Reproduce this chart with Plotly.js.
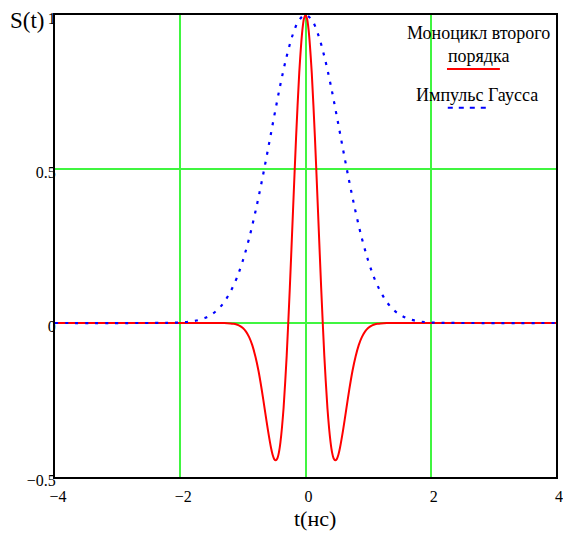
<!DOCTYPE html>
<html>
<head>
<meta charset="utf-8">
<script src="https://cdn.plot.ly/plotly-3.0.1.min.js"></script>
<style>
  html, body { margin: 0; padding: 0; background: #fff; }
  #plot { width: 563px; height: 533px; }
</style>
</head>
<body>
<div id="plot"></div>
<script>
// Second-order monocycle, sampled in time (ns)
const monoT = [-4, -2, -1.3, -1.2, -1.15, -1.1, -1.05, -1.0, -0.95, -0.9, -0.85, -0.8, -0.75, -0.7, -0.65, -0.6, -0.55, -0.525, -0.5, -0.475, -0.45, -0.425, -0.4, -0.35, -0.3, -0.25, -0.2, -0.15, -0.1, -0.05, -0.025, 0,
               0.025, 0.05, 0.1, 0.15, 0.2, 0.25, 0.3, 0.35, 0.4, 0.425, 0.45, 0.475, 0.5, 0.525, 0.55, 0.6, 0.65, 0.7, 0.75, 0.8, 0.85, 0.9, 0.95, 1.0, 1.05, 1.1, 1.15, 1.2, 1.3, 2, 4];
const monoS = [0, 0, 0, -0.0013, -0.0026, -0.005, -0.0093, -0.0165, -0.028, -0.046, -0.072, -0.109, -0.156, -0.215, -0.281, -0.348, -0.406, -0.428, -0.442, -0.446, -0.44, -0.421, -0.387, -0.276, -0.105, 0.115, 0.362, 0.605, 0.812, 0.951, 0.988, 1,
               0.988, 0.951, 0.812, 0.605, 0.362, 0.115, -0.105, -0.276, -0.387, -0.421, -0.44, -0.446, -0.442, -0.428, -0.406, -0.348, -0.281, -0.215, -0.156, -0.109, -0.072, -0.046, -0.028, -0.0165, -0.0093, -0.005, -0.0026, -0.0013, 0, 0, 0];

// Gaussian pulse
const gaussT = [-4, -2.2, -2.0, -1.9, -1.8, -1.7, -1.6, -1.5, -1.4, -1.3, -1.2, -1.1, -1.0, -0.9, -0.8, -0.7, -0.6, -0.5, -0.4, -0.3, -0.2, -0.1, 0,
                0.1, 0.2, 0.3, 0.4, 0.5, 0.6, 0.7, 0.8, 0.9, 1.0, 1.1, 1.2, 1.3, 1.4, 1.5, 1.6, 1.7, 1.8, 1.9, 2.0, 2.2, 4];
const gaussS = [0, 0.0005, 0.0017, 0.0032, 0.0057, 0.01, 0.0169, 0.0277, 0.0439, 0.0676, 0.101, 0.145, 0.203, 0.275, 0.361, 0.458, 0.563, 0.671, 0.775, 0.866, 0.938, 0.984, 1,
                0.984, 0.938, 0.866, 0.775, 0.671, 0.563, 0.458, 0.361, 0.275, 0.203, 0.145, 0.101, 0.0676, 0.0439, 0.0277, 0.0169, 0.01, 0.0057, 0.0032, 0.0017, 0.0005, 0];

const xTicks = [-4, -2, 0, 2, 4];
const xTickText = ['\u22124', '\u22122', '0', '2', '4'];
const yTicks = [-0.5, 0, 0.5, 1];
const yTickText = ['\u22120.5', '0', '0.5', '1'];

const seriesNames = ['Моноцикл второго<br>порядка', 'Импульс Гаусса'];
const xTitle = 't(нс)';
const yTitle = 'S(t)';

const serif = 'Liberation Serif, serif';
const gridGreen = '#40f540';

const traces = [
  {
    x: monoT, y: monoS, type: 'scatter', mode: 'lines',
    line: { shape: 'spline', smoothing: 0.6, color: '#ff0000', width: 2 },
    showlegend: false, hoverinfo: 'skip'
  },
  {
    x: gaussT, y: gaussS, type: 'scatter', mode: 'lines',
    line: { shape: 'spline', color: '#0000ff', width: 2.2, dash: '3px,7px' },
    showlegend: false, hoverinfo: 'skip'
  }
];

const axisCommon = {
  showline: true, mirror: true, linecolor: '#000', linewidth: 2,
  showgrid: true, gridcolor: gridGreen, gridwidth: 2,
  zeroline: false, ticks: '', ticklen: 0,
  tickfont: { family: serif, size: 16, color: '#000' },
  fixedrange: true
};

const layout = {
  width: 563, height: 533,
  margin: { l: 55, r: 7, t: 15, b: 56 },
  paper_bgcolor: '#fff', plot_bgcolor: '#fff',
  showlegend: false,
  font: { family: serif, color: '#000' },
  xaxis: Object.assign({}, axisCommon, {
    range: [-4, 4], tickmode: 'array', tickvals: xTicks, ticktext: xTickText,
    ticklabelshift: 3, ticklabelstandoff: 4
  }),
  yaxis: Object.assign({}, axisCommon, {
    range: [-0.5, 1], tickmode: 'array', tickvals: yTicks, ticktext: yTickText,
    ticklabelshift: 3, ticklabelstandoff: -6
  }),
  annotations: [
    { text: yTitle, xref: 'paper', yref: 'paper', x: -0.016, y: 0.988, xanchor: 'right', yanchor: 'middle',
      showarrow: false, font: { family: serif, size: 23, color: '#000' } },
    { text: xTitle, xref: 'paper', yref: 'paper', x: 0.519, y: -0.09, xanchor: 'center', yanchor: 'middle',
      showarrow: false, font: { family: serif, size: 22, color: '#000' } },
    { text: seriesNames[0], xref: 'paper', yref: 'paper', x: 0.845, y: 0.937, xanchor: 'center', yanchor: 'middle',
      align: 'center', showarrow: false, font: { family: serif, size: 18, color: '#000' } },
    { text: seriesNames[1], xref: 'paper', yref: 'paper', x: 0.843, y: 0.827, xanchor: 'center', yanchor: 'middle',
      showarrow: false, font: { family: serif, size: 18, color: '#000' } }
  ],
  shapes: [
    { type: 'line', xref: 'paper', yref: 'paper', x0: 0.7824, x1: 0.888, y0: 0.883, y1: 0.883,
      line: { color: '#ff0000', width: 2 } },
    { type: 'line', xref: 'paper', yref: 'paper', x0: 0.784, x1: 0.868, y0: 0.799, y1: 0.799,
      line: { color: '#0000ff', width: 2, dash: '5px,6px' } }
  ]
};

Plotly.newPlot('plot', traces, layout, { staticPlot: true, displayModeBar: false });
</script>
</body>
</html>
